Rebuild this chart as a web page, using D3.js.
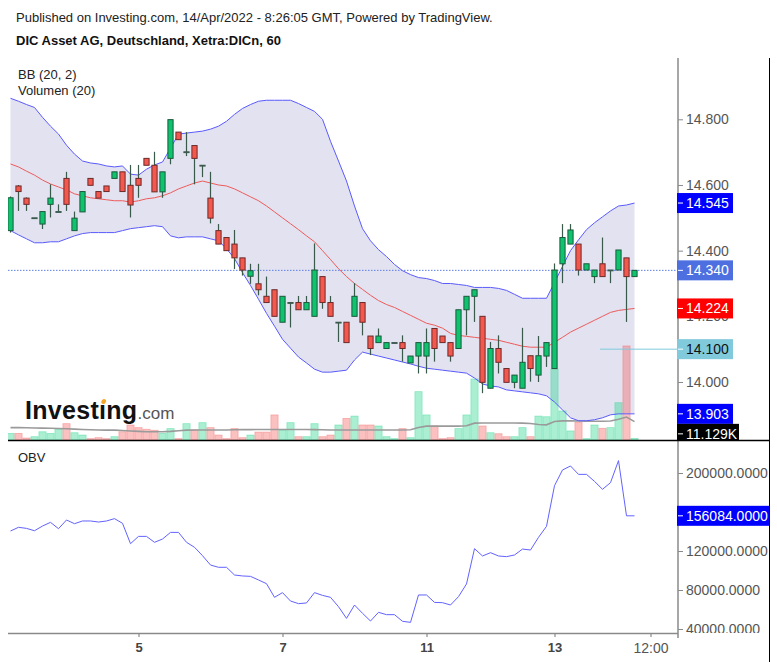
<!DOCTYPE html>
<html>
<head>
<meta charset="utf-8">
<script src="https://cdn.jsdelivr.net/npm/d3@7"></script>
<style>
  html, body { margin: 0; padding: 0; background: #fff; }
  svg { display: block; font-family: Arial, "Liberation Sans", sans-serif; }
</style>
</head>
<body>
<svg id="chart" width="777" height="662"></svg>
<script>
// DIC Asset AG (Xetra:DICn), 60-minute candles, 1 Apr – 14 Apr 2022
const opens = [14.461,14.597,14.560,14.500,14.481,14.541,14.519,14.620,14.461,14.518,
  14.620,14.580,14.597,14.620,14.640,14.599,14.620,14.681,14.660,14.579,
  14.681,14.761,14.701,14.720,14.660,14.560,14.461,14.440,14.420,14.378,
  14.322,14.299,14.261,14.281,14.182,14.242,14.242,14.220,14.200,14.321,
  14.242,14.182,14.182,14.200,14.242,14.140,14.120,14.102,14.120,14.120,
  14.058,14.079,14.079,14.163,14.140,14.120,14.102,14.220,14.261,14.200,
  13.981,14.102,14.041,13.999,13.981,14.080,14.021,14.079,14.041,14.360,
  14.420,14.420,14.341,14.321,14.360,14.341,14.341,14.378,14.321];
const highs = [14.565,14.600,14.562,14.500,14.519,14.602,14.541,14.640,14.519,14.580,
  14.620,14.580,14.597,14.640,14.640,14.661,14.661,14.681,14.701,14.640,
  14.799,14.761,14.761,14.720,14.660,14.640,14.481,14.440,14.463,14.378,
  14.360,14.360,14.321,14.281,14.261,14.242,14.262,14.262,14.422,14.321,
  14.262,14.182,14.182,14.301,14.242,14.140,14.163,14.120,14.120,14.142,
  14.079,14.120,14.163,14.163,14.140,14.120,14.220,14.261,14.281,14.200,
  14.122,14.142,14.041,14.021,14.165,14.080,14.140,14.120,14.361,14.481,
  14.481,14.420,14.360,14.341,14.440,14.341,14.402,14.378,14.341];
const lows = [14.455,14.521,14.521,14.500,14.466,14.501,14.519,14.521,14.461,14.518,
  14.599,14.560,14.580,14.620,14.580,14.501,14.561,14.660,14.579,14.561,
  14.663,14.738,14.688,14.602,14.624,14.483,14.420,14.400,14.344,14.324,
  14.299,14.264,14.242,14.200,14.182,14.166,14.220,14.220,14.200,14.223,
  14.200,14.122,14.120,14.200,14.142,14.082,14.120,14.102,14.120,14.062,
  14.058,14.026,14.026,14.062,14.120,14.062,14.102,14.142,14.183,13.966,
  13.981,14.026,13.999,13.981,13.981,14.001,14.000,14.046,14.041,14.301,
  14.420,14.324,14.341,14.301,14.321,14.301,14.341,14.183,14.321];
const closes = [14.561,14.580,14.541,14.500,14.519,14.560,14.519,14.541,14.499,14.580,
  14.599,14.560,14.580,14.640,14.580,14.539,14.599,14.660,14.579,14.640,
  14.799,14.738,14.701,14.681,14.660,14.499,14.420,14.400,14.378,14.341,
  14.339,14.281,14.242,14.200,14.261,14.242,14.220,14.242,14.341,14.242,
  14.200,14.182,14.120,14.261,14.182,14.102,14.140,14.120,14.120,14.102,
  14.079,14.120,14.120,14.102,14.120,14.079,14.220,14.261,14.281,13.999,
  14.102,14.060,13.999,14.021,14.060,14.041,14.080,14.120,14.341,14.440,
  14.463,14.341,14.360,14.341,14.321,14.341,14.402,14.321,14.340];

// Bollinger Bands (20, 2)
const bbUpper = [14.864,14.855,14.845,14.836,14.806,14.779,14.755,14.721,14.694,14.673,
  14.667,14.664,14.658,14.655,14.658,14.633,14.630,14.648,14.661,14.670,
  14.712,14.755,14.758,14.761,14.764,14.770,14.779,14.794,14.815,14.833,
  14.845,14.855,14.858,14.858,14.858,14.858,14.848,14.836,14.824,14.800,
  14.733,14.673,14.612,14.536,14.467,14.430,14.403,14.382,14.358,14.339,
  14.327,14.318,14.315,14.309,14.300,14.300,14.297,14.294,14.288,14.288,
  14.288,14.285,14.279,14.267,14.255,14.255,14.255,14.255,14.303,14.352,
  14.400,14.433,14.464,14.485,14.503,14.521,14.536,14.539,14.545];
const bbMiddle = [14.664,14.655,14.642,14.630,14.615,14.603,14.594,14.585,14.573,14.567,
  14.561,14.558,14.555,14.552,14.552,14.548,14.552,14.558,14.561,14.567,
  14.576,14.588,14.597,14.606,14.612,14.606,14.600,14.597,14.588,14.576,
  14.564,14.552,14.536,14.518,14.500,14.482,14.464,14.445,14.427,14.400,
  14.373,14.345,14.321,14.300,14.282,14.264,14.248,14.236,14.227,14.215,
  14.203,14.191,14.179,14.173,14.164,14.148,14.142,14.139,14.136,14.133,
  14.130,14.127,14.121,14.115,14.109,14.106,14.106,14.106,14.121,14.136,
  14.152,14.164,14.176,14.188,14.200,14.212,14.218,14.221,14.224];
const bbLower = [14.461,14.448,14.436,14.424,14.424,14.427,14.427,14.436,14.445,14.452,
  14.455,14.455,14.455,14.455,14.461,14.467,14.470,14.473,14.476,14.473,
  14.445,14.439,14.442,14.442,14.442,14.436,14.430,14.406,14.376,14.333,
  14.294,14.252,14.209,14.170,14.130,14.103,14.076,14.058,14.039,14.030,
  14.030,14.033,14.036,14.067,14.091,14.085,14.079,14.073,14.067,14.061,
  14.055,14.048,14.042,14.039,14.036,14.033,14.030,14.027,14.012,13.994,
  13.988,13.985,13.976,13.973,13.970,13.967,13.964,13.958,13.939,13.915,
  13.891,13.882,13.882,13.885,13.891,13.900,13.903,13.903,13.903];

// Volume and its 20-period average
const volumes = [4000,4000,1200,2000,5000,4000,6500,9900,4400,3000,
  800,1400,800,2000,5000,9100,7500,6500,5900,4000,
  6900,800,9900,6100,10500,7500,3000,800,6900,1400,
  3000,4800,4800,15200,6100,10500,2000,2000,9900,2000,
  3000,9100,13100,14500,9100,9100,8500,2000,800,6900,
  1400,29300,15200,8500,800,1400,6900,15200,37000,8500,
  4400,3800,2000,2000,7500,2000,14500,14100,43000,17600,
  5500,10900,800,9100,7100,7500,22600,57000,1000];
const volumeMA = [7500,7500,7400,7300,7200,7100,7000,6800,6600,6400,
  6200,6100,6000,6000,5800,5500,5200,5000,5000,5000,
  5200,5600,6000,6100,6100,6100,6100,6100,6200,6300,
  6300,6400,6400,6400,6400,6400,6400,6400,6300,6200,
  6100,6100,6100,6100,6100,6100,6100,6100,6100,6100,
  6200,7600,8400,8400,8400,8400,8400,8600,10200,10300,
  10300,10300,10300,10300,10200,10000,9400,9200,11200,11600,
  11600,11500,11400,11400,11400,11500,12600,13900,11129];

// On-balance volume
const obv = [140500,144300,143200,140800,145600,149400,142900,151800,148000,150800,
  150800,149700,150800,153200,148400,127500,135000,135000,128900,132300,
  139100,139100,128900,123800,115200,105600,103300,103300,95400,94400,
  94000,90300,86500,72500,77300,68700,66000,66700,77300,74500,
  72500,62900,50900,64600,56100,48200,57100,54700,54700,47900,
  46800,74900,74900,67300,67000,64600,73200,86200,122400,114900,
  118300,114900,114200,115900,122000,121000,134000,145300,187000,203100,
  207200,198600,198600,191400,183300,190100,212700,156084,156084];

// Time axis: bar positions of the session starts and labels
const timeTickBars = [16, 34, 52, 68, 80];
const timeTickLabels = ["5", "7", "11", "13", "12:00"];
const priceTicks = [14.0, 14.2, 14.4, 14.6, 14.8];
const obvTicks = [40000, 80000, 120000, 200000];
const horizontalLevel = 14.100;   // drawn horizontal ray
const horizontalLevelFromBar = 73.7;

const candles = opens.map((o, i) => ({ i, o, h: highs[i], l: lows[i], c: closes[i] }));

const svg = d3.select("#chart");
svg.append("rect").attr("width", 777).attr("height", 662).attr("fill", "#fff");

// geometry
const L = 8, R = 678, RB = 769.5;
const mainTop = 58, mainBottom = 440, obvTop = 441, obvBottom = 633;

const x = d3.scaleLinear().domain([0, 80]).range([10.5, 650.5]);
const yP = d3.scaleLinear().domain([14.0, 14.8]).range([382, 119.3]);
const yV = d3.scaleLinear().domain([0, 100000]).range([mainBottom, mainBottom - 165]);
const yO = d3.scaleLinear().domain([40000, 200000]).range([629, 473]);

const defs = svg.append("defs");
defs.append("clipPath").attr("id", "clipMain").append("rect")
  .attr("x", L).attr("y", mainTop).attr("width", R - L).attr("height", mainBottom - mainTop);
defs.append("clipPath").attr("id", "clipObv").append("rect")
  .attr("x", L).attr("y", obvTop).attr("width", R - L).attr("height", obvBottom - obvTop);
defs.append("clipPath").attr("id", "clipPriceAxis").append("rect")
  .attr("x", R - 2).attr("y", mainTop).attr("width", RB - R + 2).attr("height", mainBottom - mainTop);
defs.append("clipPath").attr("id", "clipObvAxis").append("rect")
  .attr("x", R - 2).attr("y", obvTop).attr("width", RB - R + 2).attr("height", obvBottom - obvTop);

// header text
svg.append("text").attr("x", 16).attr("y", 22).attr("font-size", 13).attr("fill", "#222")
  .text("Published on Investing.com, 14/Apr/2022 - 8:26:05 GMT, Powered by TradingView.");
svg.append("text").attr("x", 16).attr("y", 45).attr("font-size", 13).attr("font-weight", "bold").attr("fill", "#111")
  .text("DIC Asset AG, Deutschland, Xetra:DICn, 60");

// ---------- main price panel ----------
const main = svg.append("g").attr("clip-path", "url(#clipMain)");

// band fill
main.append("path")
  .datum(d3.range(candles.length))
  .attr("fill", "rgb(226,226,240)")
  .attr("d", d3.area().x(i => x(i)).y0(i => yP(bbLower[i])).y1(i => yP(bbUpper[i])));

// volume bars
main.append("g").selectAll("rect").data(candles).join("rect")
  .attr("x", d => x(d.i) - 3.6)
  .attr("width", 7.2)
  .attr("y", d => yV(volumes[d.i]))
  .attr("height", d => mainBottom - yV(volumes[d.i]))
  .attr("fill", d => d.c >= d.o ? "#2ad88e" : "#f56464")
  .attr("fill-opacity", 0.4)
  .attr("stroke", d => d.c >= d.o ? "#2ad88e" : "#f56464")
  .attr("stroke-opacity", 0.45)
  .attr("stroke-width", 0.8);

// volume moving average
main.append("path")
  .datum(d3.range(candles.length))
  .attr("fill", "none").attr("stroke", "#9a9a9a").attr("stroke-width", 1.6)
  .attr("d", d3.line().x(i => x(i)).y(i => yV(volumeMA[i])));

// band lines
const bandLine = arr => d3.line().x(i => x(i)).y(i => yP(arr[i]));
main.append("path").datum(d3.range(candles.length))
  .attr("fill", "none").attr("stroke", "#5a5aff").attr("stroke-width", 1)
  .attr("d", bandLine(bbUpper));
main.append("path").datum(d3.range(candles.length))
  .attr("fill", "none").attr("stroke", "#5a5aff").attr("stroke-width", 1)
  .attr("d", bandLine(bbLower));
main.append("path").datum(d3.range(candles.length))
  .attr("fill", "none").attr("stroke", "#f05a5a").attr("stroke-width", 1)
  .attr("d", bandLine(bbMiddle));

// Investing.com logo
const logo = svg.append("text").attr("x", 25).attr("y", 419);
logo.append("tspan").attr("font-size", 25).attr("font-weight", "bold").attr("fill", "#111")
  .attr("letter-spacing", 0.3).text("Investıng");
logo.append("tspan").attr("font-size", 17).attr("fill", "#555").text(".com");
const dotBox = logo.node().getExtentOfChar(6);
svg.append("ellipse")
  .attr("cx", dotBox.x + dotBox.width / 2 + 1).attr("cy", 401.5)
  .attr("rx", 2.2).attr("ry", 2.6)
  .attr("transform", `rotate(30 ${dotBox.x + dotBox.width / 2 + 1} 401.5)`)
  .attr("fill", "#f5a623");

// last price dotted line
const lastClose = closes[closes.length - 1];
svg.append("line")
  .attr("x1", L).attr("x2", R).attr("y1", yP(lastClose)).attr("y2", yP(lastClose))
  .attr("stroke", "#5c7ee8").attr("stroke-width", 1).attr("stroke-dasharray", "1.5,1.5");

// horizontal ray
svg.append("line")
  .attr("x1", x(horizontalLevelFromBar)).attr("x2", R)
  .attr("y1", yP(horizontalLevel)).attr("y2", yP(horizontalLevel))
  .attr("stroke", "#7fcadc").attr("stroke-width", 1);

// candles
const cg = svg.append("g").attr("clip-path", "url(#clipMain)");
const cand = cg.selectAll("g").data(candles).join("g");
cand.append("line")
  .attr("x1", d => x(d.i)).attr("x2", d => x(d.i))
  .attr("y1", d => yP(d.h)).attr("y2", d => yP(d.l))
  .attr("stroke", "#3a5a4c").attr("stroke-width", 1.2);
cand.append("rect")
  .attr("x", d => x(d.i) - 2.6)
  .attr("width", 5.2)
  .attr("y", d => yP(Math.max(d.o, d.c)))
  .attr("height", d => Math.max(0.8, Math.abs(yP(d.o) - yP(d.c))))
  .attr("fill", d => Math.abs(d.o - d.c) < 0.004 ? "#3a5a4c" : (d.c > d.o ? "#0cc36e" : "#f5574c"))
  .attr("stroke", d => Math.abs(d.o - d.c) < 0.004 ? "#3a5a4c" : (d.c > d.o ? "#1d5a3b" : "#6a2b2b"))
  .attr("stroke-width", 1);

// indicator titles
svg.append("text").attr("x", 18).attr("y", 79).attr("font-size", 13).attr("fill", "#222").text("BB (20, 2)");
svg.append("text").attr("x", 18).attr("y", 95).attr("font-size", 13).attr("fill", "#222").text("Volumen (20)");

// ---------- OBV panel ----------
const og = svg.append("g").attr("clip-path", "url(#clipObv)");
og.append("path").datum(obv)
  .attr("fill", "none").attr("stroke", "#6262ff").attr("stroke-width", 1)
  .attr("d", d3.line().x((d, i) => x(i)).y(d => yO(d)));
svg.append("text").attr("x", 18).attr("y", 462).attr("font-size", 13).attr("fill", "#222").text("OBV");

// ---------- axes ----------
const priceAxis = svg.append("g").attr("clip-path", "url(#clipPriceAxis)")
  .append("g").attr("transform", `translate(${R},0)`)
  .call(d3.axisRight(yP).tickValues(priceTicks).tickFormat(d3.format(".3f")).tickSize(5).tickPadding(3));
priceAxis.select(".domain").remove();
priceAxis.selectAll("line").attr("stroke", "#8a8a8a");
priceAxis.selectAll("text").attr("font-size", 14).attr("fill", "#555").attr("font-family", null);

const obvAxis = svg.append("g").attr("clip-path", "url(#clipObvAxis)")
  .append("g").attr("transform", `translate(${R},0)`)
  .call(d3.axisRight(yO).tickValues(obvTicks).tickFormat(d => d.toFixed(4)).tickSize(5).tickPadding(3));
obvAxis.select(".domain").remove();
obvAxis.selectAll("line").attr("stroke", "#8a8a8a");
obvAxis.selectAll("text").attr("font-size", 14).attr("fill", "#555").attr("font-family", null);

const timeAxis = svg.append("g").attr("transform", `translate(0,${obvBottom})`)
  .call(d3.axisBottom(x).tickValues(timeTickBars).tickFormat((d, k) => timeTickLabels[k]).tickSize(4).tickPadding(6));
timeAxis.select(".domain").remove();
timeAxis.selectAll("line").attr("stroke", "#8a8a8a").attr("stroke-width", 1.2);
timeAxis.selectAll("text")
  .attr("font-family", null)
  .attr("font-size", (d, k) => k < 4 ? 13 : 14)
  .attr("font-weight", (d, k) => k < 4 ? "bold" : "normal")
  .attr("fill", (d, k) => k < 4 ? "#444" : "#555");

// frame lines
svg.append("line").attr("x1", R).attr("x2", R).attr("y1", mainTop).attr("y2", 638)
  .attr("stroke", "#8a8a8a").attr("stroke-width", 1.5);
svg.append("line").attr("x1", L).attr("x2", R).attr("y1", obvBottom + 0.5).attr("y2", obvBottom + 0.5)
  .attr("stroke", "#8a8a8a").attr("stroke-width", 1.5);
svg.append("line").attr("x1", RB).attr("x2", RB).attr("y1", mainTop).attr("y2", 662)
  .attr("stroke", "#000").attr("stroke-width", 1);

// ---------- value labels on the price scale ----------
const priceLabels = [
  { v: bbUpper[bbUpper.length - 1], bg: "#0000ff", fg: "#fff" },
  { v: lastClose, bg: "#4d6fe0", fg: "#fff" },
  { v: bbMiddle[bbMiddle.length - 1], bg: "#ff0000", fg: "#fff" },
  { v: horizontalLevel, bg: "#80cadc", fg: "#111" },
  { v: bbLower[bbLower.length - 1], bg: "#0000ff", fg: "#fff" }
];
const pl = svg.append("g").attr("clip-path", "url(#clipPriceAxis)");
priceLabels.forEach(d => {
  const cy = yP(d.v);
  pl.append("rect").attr("x", R - 1).attr("y", cy - 10).attr("width", 56).attr("height", 20).attr("fill", d.bg);
  pl.append("line").attr("x1", R).attr("x2", R + 5).attr("y1", cy).attr("y2", cy).attr("stroke", "#fff");
  pl.append("text").attr("x", R + 8).attr("y", cy + 5).attr("font-size", 14).attr("fill", d.fg)
    .text(d3.format(".3f")(d.v));
});
// volume average label, moved below the lower band label
const maLast = volumeMA[volumeMA.length - 1];
const maY = Math.max(yV(maLast), yP(bbLower[bbLower.length - 1]) + 20);
pl.append("rect").attr("x", R - 1).attr("y", maY - 10).attr("width", 62).attr("height", 20).attr("fill", "#000");
pl.append("line").attr("x1", R).attr("x2", R + 5).attr("y1", maY).attr("y2", maY).attr("stroke", "#fff");
pl.append("text").attr("x", R + 8).attr("y", maY + 5).attr("font-size", 14).attr("fill", "#fff")
  .text(d3.format(".3f")(maLast / 1000) + "K");

// OBV last value label
const obvLast = obv[obv.length - 1];
const ol = svg.append("g").attr("clip-path", "url(#clipObvAxis)");
ol.append("rect").attr("x", R - 1).attr("y", yO(obvLast) - 10).attr("width", 100).attr("height", 20).attr("fill", "#0000ff");
ol.append("line").attr("x1", R).attr("x2", R + 5).attr("y1", yO(obvLast)).attr("y2", yO(obvLast)).attr("stroke", "#fff");
ol.append("text").attr("x", R + 8).attr("y", yO(obvLast) + 5).attr("font-size", 14).attr("fill", "#fff")
  .text(obvLast.toFixed(4));

// panel separator
svg.append("line").attr("x1", L).attr("x2", RB + 0.5).attr("y1", mainBottom + 0.5).attr("y2", mainBottom + 0.5)
  .attr("stroke", "#000").attr("stroke-width", 1.5);
</script>
</body>
</html>
